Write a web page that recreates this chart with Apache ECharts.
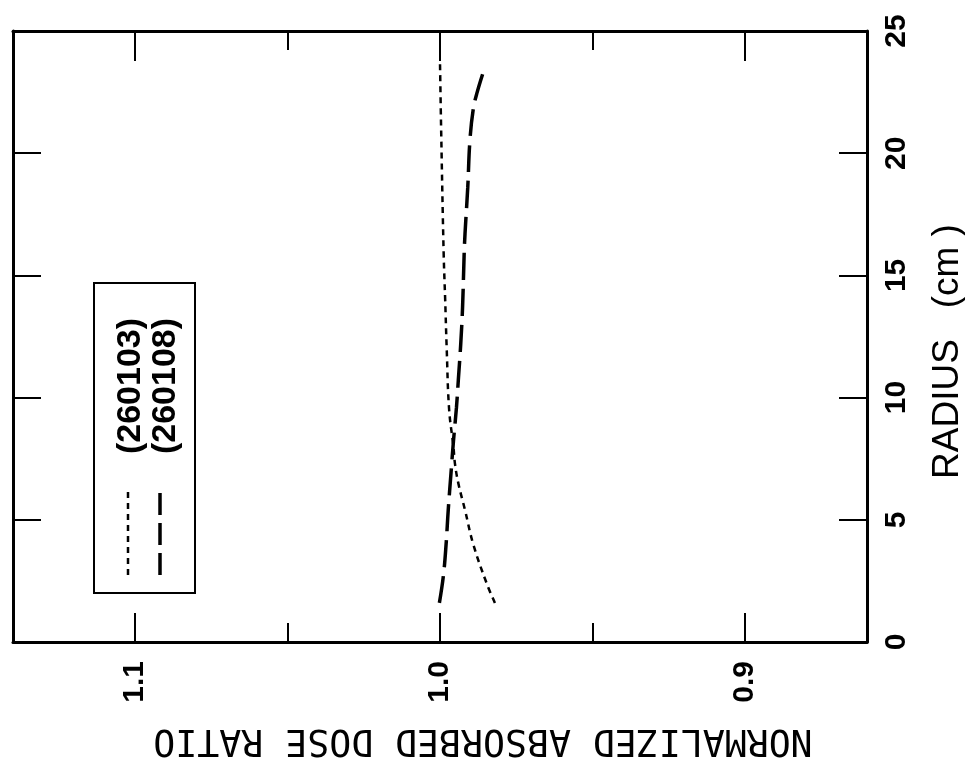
<!DOCTYPE html>
<html>
<head>
<meta charset="utf-8">
<script src="https://cdn.jsdelivr.net/npm/echarts@6/dist/echarts.min.js"></script>
<style>
  html, body { margin: 0; padding: 0; background: #fff; }
  #chart { width: 965px; height: 763px; }
</style>
</head>
<body>
<div id="chart"></div>
<script>
// Series labels shown in the key
const seriesNames = ['(260103)', '(260108)'];

// Run 260103: radius (cm) and normalized absorbed dose ratio
const radius103 = [1.6, 2.4, 4.0, 5.4, 6.5, 7.3, 8.0, 9.5, 12.0, 14.0, 15.9, 20.8, 23.7];
const ratio103  = [0.9820, 0.9847, 0.9891, 0.9918, 0.9940, 0.9951, 0.9956, 0.9970, 0.9978, 0.9983, 0.9988, 0.9996, 1.0000];

// Run 260108
const radius108 = [1.6, 2.7, 4.0, 5.4, 6.9, 8.2, 9.6, 10.7, 12.2, 13.7, 15.8, 16.7, 18.6, 20.5, 21.8, 22.5, 23.4];
const ratio108  = [1.0002, 0.9989, 0.9980, 0.9973, 0.9964, 0.9956, 0.9946, 0.9940, 0.9932, 0.9926, 0.9921, 0.9918, 0.9909, 0.9902, 0.9891, 0.9878, 0.9856];

// Axis ticks
const ratioMajorTicks = [0.9, 1.0, 1.1];
const ratioMinorTicks = [0.95, 1.05];
const ratioRange = [0.86, 1.14];
const radiusRange = [0, 25];
const radiusStep = 5;

const ink = '#000';
const sans = '"Liberation Sans", Arial, sans-serif';

function pairs(xs, ys) {
  return xs.map((r, i) => [ys[i], r]);
}

function ratioAxis(position, ticks, tickLen, showLine, extra) {
  return Object.assign({
    type: 'value',
    position: position,
    inverse: true,
    min: ratioRange[0],
    max: ratioRange[1],
    axisLine: { show: showLine, onZero: false, lineStyle: { color: ink, width: 3 } },
    axisTick: { show: true, inside: true, length: tickLen, customValues: ticks,
                lineStyle: { color: ink, width: 2 } },
    axisLabel: { show: false },
    splitLine: { show: false }
  }, extra || {});
}

function radiusAxis(position, extra) {
  return Object.assign({
    type: 'value',
    position: position,
    min: radiusRange[0],
    max: radiusRange[1],
    interval: radiusStep,
    axisLine: { show: true, onZero: false, lineStyle: { color: ink, width: 3 } },
    axisTick: { show: true, inside: true, length: 28, lineStyle: { color: ink, width: 2 } },
    axisLabel: { show: false },
    splitLine: { show: false }
  }, extra || {});
}

const chart = echarts.init(document.getElementById('chart'), null, { renderer: 'canvas' });

chart.setOption({
  animation: false,
  backgroundColor: '#fff',
  grid: { left: 13, right: 98, top: 31, bottom: 121, containLabel: false, outerBoundsMode: 'none' },
  xAxis: [
    ratioAxis('bottom', ratioMajorTicks, 29, true, {
      axisLabel: {
        show: true, customValues: ratioMajorTicks, rotate: 90, margin: 19,
        formatter: v => v.toFixed(1), color: ink, fontSize: 30, fontWeight: 'bold', fontFamily: sans
      },
      name: 'NORMALIZED ABSORBED DOSE RATIO',
      nameLocation: 'middle',
      nameRotate: 180,
      nameGap: 79,
      nameTextStyle: { color: ink, fontSize: 36.5, fontFamily: '"DejaVu Sans Mono", monospace',
                       padding: [0, 86, 0, 0] }
    }),
    ratioAxis('bottom', ratioMinorTicks, 19, false),
    ratioAxis('top', ratioMajorTicks, 30, true),
    ratioAxis('top', ratioMinorTicks, 19, false)
  ],
  yAxis: [
    radiusAxis('right', {
      axisLabel: { show: true, rotate: 90, margin: 15, color: ink, fontSize: 30, fontWeight: 'bold', fontFamily: sans },
      name: 'RADIUS   (cm )',
      nameLocation: 'middle',
      nameRotate: 90,
      nameGap: 62,
      nameTextStyle: { color: ink, fontSize: 37, fontFamily: sans, padding: [0, 30, 0, 0] }
    }),
    radiusAxis('left')
  ],
  series: [
    {
      name: seriesNames[0],
      type: 'line',
      xAxisIndex: 0,
      yAxisIndex: 0,
      data: pairs(radius103, ratio103),
      smooth: 0.4,
      symbol: 'none',
      lineStyle: { color: ink, width: 2.5, type: [6, 5] }
    },
    {
      name: seriesNames[1],
      type: 'line',
      xAxisIndex: 0,
      yAxisIndex: 0,
      data: pairs(radius108, ratio108),
      smooth: 0.4,
      symbol: 'none',
      lineStyle: { color: ink, width: 3.5, type: [27, 9] }
    }
  ],
  graphic: [
    { type: 'rect', shape: { x: 94, y: 283, width: 101, height: 310 },
      style: { fill: 'none', stroke: ink, lineWidth: 2 } },
    { type: 'text', x: 131, y: 386, rotation: Math.PI / 2,
      style: { text: seriesNames[0], font: 'bold 34px ' + sans, fill: ink,
               align: 'center', verticalAlign: 'middle', textAlign: 'center', textVerticalAlign: 'middle' } },
    { type: 'text', x: 166, y: 386, rotation: Math.PI / 2,
      style: { text: seriesNames[1], font: 'bold 34px ' + sans, fill: ink,
               align: 'center', verticalAlign: 'middle', textAlign: 'center', textVerticalAlign: 'middle' } },
    { type: 'line', shape: { x1: 128, y1: 575, x2: 128, y2: 487 },
      style: { stroke: ink, lineWidth: 2.5, lineDash: [6, 5] } },
    { type: 'line', shape: { x1: 160, y1: 575, x2: 160, y2: 487 },
      style: { stroke: ink, lineWidth: 3.5, lineDash: [22, 8] } }
  ]
});
</script>
</body>
</html>
